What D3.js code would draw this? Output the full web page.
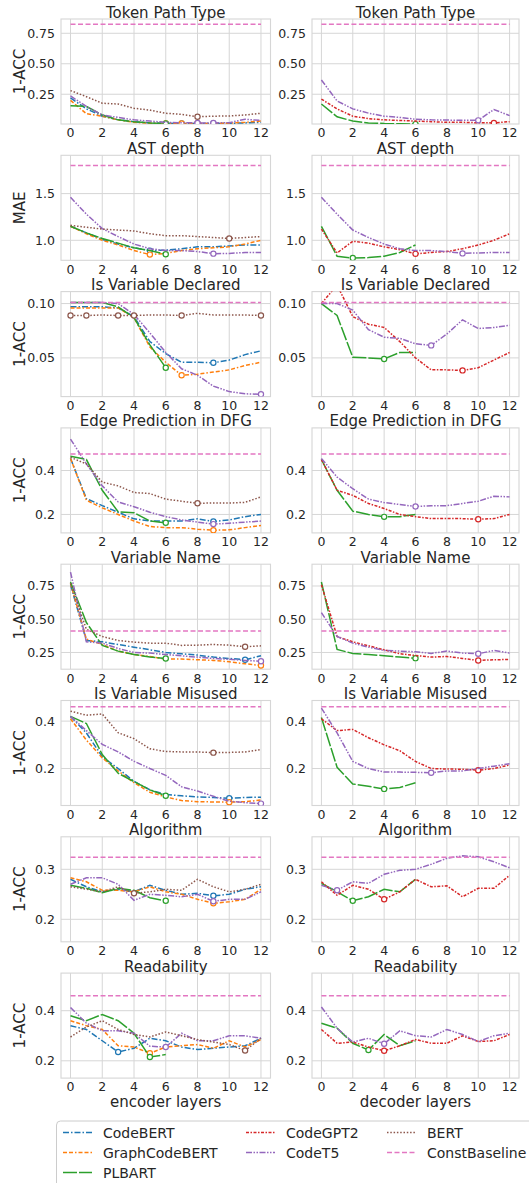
<!DOCTYPE html>
<html><head><meta charset="utf-8">
<script src="https://cdn.jsdelivr.net/npm/d3@7"></script>
<style>
body{margin:0;background:#fff}
svg{display:block;font-family:"DejaVu Sans",sans-serif}
</style>
</head><body>
<svg id="chart" width="529" height="1183"></svg>
<script>
// ---------------- data ----------------
const tasks = ["Token Path Type","AST depth","Is Variable Declared","Edge Prediction in DFG","Variable Name","Is Variable Misused","Algorithm","Readability"];
const yLabels = ["1-ACC","MAE","1-ACC","1-ACC","1-ACC","1-ACC","1-ACC","1-ACC"];
const encoderModels = ["CodeBERT","GraphCodeBERT","PLBART","CodeT5","BERT"];
const decoderModels = ["PLBART","CodeGPT2","CodeT5"];
const baselines = [0.824, 1.80, 0.101, 0.475, 0.411, 0.461, 0.324, 0.46];
const yDomains = [[0.006,0.867],[0.786,1.91],[0.0144,0.111],[0.116,0.594],[0.124,0.914],[0.044,0.487],[0.155,0.365],[0.131,0.55]];
const yTicks = [[0.25,0.5,0.75],[1.0,1.5],[0.05,0.10],[0.2,0.4],[0.25,0.5,0.75],[0.2,0.4],[0.2,0.3],[0.2,0.4]];
const yTickLabels = [["0.25","0.50","0.75"],["1.0","1.5"],["0.05","0.10"],["0.2","0.4"],["0.25","0.50","0.75"],["0.2","0.4"],["0.2","0.3"],["0.2","0.4"]];
const xTicks = [0,2,4,6,8,10,12];
const xLabels = ["encoder layers","decoder layers"];

// encoder panels: [CodeBERT, GraphCodeBERT, PLBART, CodeT5, BERT]
const encTokenPath = [
  [0.22,0.13,0.07,0.04,0.025,0.015,0.012,0.01,0.01,0.01,0.012,0.015,0.02],
  [0.20,0.09,0.07,0.04,0.02,0.012,0.01,0.01,0.01,0.011,0.013,0.02,0.03],
  [0.155,0.15,0.08,0.04,0.025,0.015,0.01],
  [0.236,0.15,0.08,0.06,0.04,0.03,0.02,0.016,0.015,0.015,0.017,0.045,0.035],
  [0.28,0.23,0.176,0.17,0.135,0.12,0.094,0.085,0.066,0.07,0.072,0.08,0.094]
];
const encAstDepth = [
  [1.15,1.08,1.01,0.96,0.92,0.89,0.895,0.91,0.93,0.93,0.94,0.95,0.95],
  [1.15,1.07,1.00,0.95,0.89,0.847,0.86,0.89,0.91,0.92,0.93,0.96,1.00],
  [1.15,1.08,1.02,0.97,0.92,0.89,0.85],
  [1.46,1.28,1.125,1.04,0.96,0.91,0.89,0.89,0.88,0.857,0.86,0.87,0.87],
  [1.16,1.14,1.12,1.11,1.10,1.07,1.05,1.05,1.04,1.03,1.02,1.03,1.04]
];
const encVarDeclared = [
  [0.097,0.097,0.097,0.096,0.088,0.065,0.054,0.046,0.046,0.0455,0.048,0.053,0.0565],
  [0.096,0.096,0.096,0.096,0.087,0.06,0.046,0.034,0.035,0.037,0.039,0.043,0.046],
  [0.101,0.101,0.101,0.097,0.087,0.062,0.041],
  [0.101,0.101,0.101,0.1,0.09,0.073,0.055,0.04,0.034,0.024,0.019,0.017,0.0165],
  [0.089,0.089,0.0895,0.089,0.089,0.0895,0.0895,0.089,0.091,0.0895,0.0895,0.0895,0.089]
];
const encEdgeDFG = [
  [0.455,0.272,0.24,0.21,0.18,0.17,0.17,0.17,0.18,0.168,0.175,0.19,0.2],
  [0.455,0.265,0.23,0.2,0.17,0.145,0.14,0.14,0.133,0.128,0.13,0.14,0.15],
  [0.465,0.45,0.31,0.212,0.208,0.17,0.162],
  [0.543,0.43,0.33,0.257,0.235,0.21,0.19,0.175,0.165,0.156,0.16,0.165,0.17],
  [0.46,0.43,0.347,0.33,0.3,0.295,0.27,0.26,0.251,0.252,0.252,0.255,0.28]
];
const encVarName = [
  [0.76,0.34,0.33,0.31,0.29,0.27,0.25,0.24,0.23,0.215,0.205,0.195,0.225],
  [0.77,0.35,0.31,0.26,0.235,0.22,0.2,0.2,0.195,0.19,0.18,0.165,0.152],
  [0.78,0.475,0.303,0.26,0.235,0.215,0.205],
  [0.854,0.33,0.32,0.28,0.25,0.245,0.235,0.225,0.215,0.205,0.198,0.19,0.184],
  [0.77,0.424,0.37,0.34,0.328,0.32,0.32,0.303,0.305,0.31,0.305,0.293,0.3]
];
const encVarMisused = [
  [0.42,0.35,0.25,0.2,0.146,0.11,0.09,0.085,0.08,0.078,0.075,0.078,0.079],
  [0.41,0.32,0.245,0.19,0.14,0.1,0.08,0.065,0.06,0.059,0.058,0.06,0.067],
  [0.42,0.39,0.259,0.18,0.145,0.11,0.085],
  [0.42,0.36,0.302,0.27,0.231,0.2,0.171,0.123,0.105,0.083,0.062,0.056,0.052],
  [0.442,0.425,0.43,0.351,0.326,0.283,0.272,0.27,0.27,0.267,0.268,0.27,0.28]
];
const encAlgorithm = [
  [0.28,0.265,0.255,0.26,0.255,0.268,0.258,0.25,0.252,0.247,0.25,0.26,0.265],
  [0.283,0.275,0.258,0.258,0.255,0.265,0.255,0.25,0.24,0.232,0.235,0.24,0.26],
  [0.268,0.262,0.253,0.262,0.258,0.243,0.237],
  [0.27,0.283,0.283,0.27,0.238,0.25,0.248,0.245,0.25,0.236,0.24,0.24,0.255],
  [0.265,0.26,0.255,0.265,0.252,0.255,0.26,0.258,0.28,0.265,0.255,0.26,0.27]
];
const encReadability = [
  [0.34,0.325,0.28,0.235,0.25,0.29,0.28,0.255,0.245,0.25,0.255,0.26,0.29],
  [0.36,0.34,0.325,0.26,0.255,0.23,0.255,0.26,0.265,0.25,0.28,0.255,0.285],
  [0.38,0.36,0.385,0.36,0.31,0.215,0.225],
  [0.413,0.35,0.32,0.32,0.31,0.258,0.255,0.31,0.28,0.28,0.3,0.3,0.29],
  [0.295,0.335,0.36,0.325,0.305,0.295,0.315,0.3,0.285,0.275,0.265,0.241,0.29]
];
// decoder panels: [PLBART, CodeGPT2, CodeT5]
const decTokenPath = [
  [0.17,0.065,0.03,0.015,0.01,0.008,0.005],
  [0.21,0.13,0.07,0.05,0.04,0.035,0.03,0.025,0.02,0.02,0.016,0.015,0.025],
  [0.367,0.195,0.13,0.095,0.07,0.06,0.045,0.04,0.038,0.037,0.036,0.125,0.075]
];
const decAstDepth = [
  [1.15,0.83,0.81,0.815,0.83,0.87,0.95],
  [1.12,0.865,0.99,0.97,0.93,0.90,0.855,0.87,0.88,0.91,0.95,1.00,1.07],
  [1.46,1.28,1.11,1.03,0.96,0.91,0.89,0.89,0.88,0.86,0.865,0.87,0.87]
];
const decVarDeclared = [
  [0.1,0.089,0.0505,0.05,0.049,0.055,0.055],
  [0.1,0.117,0.088,0.081,0.078,0.065,0.05,0.039,0.039,0.0385,0.041,0.048,0.055],
  [0.1,0.1,0.094,0.076,0.069,0.068,0.063,0.0615,0.072,0.085,0.077,0.078,0.08]
];
const decEdgeDFG = [
  [0.45,0.31,0.215,0.2,0.189,0.19,0.2],
  [0.45,0.31,0.287,0.25,0.227,0.2,0.19,0.181,0.181,0.181,0.178,0.181,0.2],
  [0.455,0.37,0.317,0.27,0.254,0.245,0.236,0.24,0.24,0.25,0.26,0.283,0.28]
];
const decVarName = [
  [0.78,0.273,0.242,0.235,0.225,0.215,0.207],
  [0.76,0.37,0.33,0.3,0.27,0.24,0.227,0.215,0.22,0.205,0.19,0.195,0.197],
  [0.55,0.37,0.32,0.29,0.265,0.26,0.255,0.243,0.26,0.245,0.24,0.265,0.245]
];
const decVarMisused = [
  [0.415,0.205,0.135,0.125,0.114,0.12,0.14],
  [0.41,0.36,0.365,0.33,0.3,0.275,0.23,0.2,0.198,0.197,0.193,0.2,0.215],
  [0.455,0.35,0.23,0.2,0.185,0.185,0.184,0.182,0.19,0.19,0.2,0.21,0.22]
];
const decAlgorithm = [
  [0.272,0.255,0.237,0.245,0.26,0.255,0.28],
  [0.275,0.248,0.268,0.26,0.24,0.255,0.28,0.265,0.267,0.245,0.262,0.262,0.288],
  [0.268,0.258,0.275,0.272,0.29,0.298,0.3,0.31,0.322,0.327,0.325,0.315,0.303]
];
const decReadability = [
  [0.35,0.33,0.27,0.243,0.305,0.26,0.28],
  [0.325,0.27,0.275,0.255,0.24,0.26,0.285,0.27,0.27,0.3,0.277,0.28,0.305],
  [0.415,0.33,0.275,0.29,0.268,0.32,0.3,0.295,0.325,0.305,0.277,0.3,0.31]
];
const encPanels = [encTokenPath,encAstDepth,encVarDeclared,encEdgeDFG,encVarName,encVarMisused,encAlgorithm,encReadability];
const decPanels = [decTokenPath,decAstDepth,decVarDeclared,decEdgeDFG,decVarName,decVarMisused,decAlgorithm,decReadability];

// ---------------- styles ----------------
const colors = {CodeBERT:"#1f77b4",GraphCodeBERT:"#ff7f0e",PLBART:"#2ca02c",CodeGPT2:"#d62728",CodeT5:"#9467bd",BERT:"#8c564b",ConstBaseline:"#e377c2"};
const dashes = {CodeBERT:"6,2,1.5,2",GraphCodeBERT:"4,2,4,2,1.5,2",PLBART:"14,2",CodeGPT2:"3,1.5,1.5,1.5",CodeT5:"6,1.5,1.5,1.5,1.5,1.5",BERT:"1.5,1.8",ConstBaseline:"5,2.5"};
const legendOrder = [["CodeBERT","GraphCodeBERT","PLBART"],["CodeGPT2","CodeT5"],["BERT","ConstBaseline"]];

const textColor = "#262626";
const gridColor = "#d6d6d6";
const svg = d3.select("#chart");

const rowTop0 = 19, rowPitch = 136.3, panelH = 105;
const colX = [[61,270.5],[312,519]];

tasks.forEach((task, r) => {
  const top = rowTop0 + r*rowPitch, bottom = top + panelH;
  const y = d3.scaleLinear().domain(yDomains[r]).range([bottom, top]);
  [0,1].forEach(c => {
    const [left, right] = colX[c];
    const x = d3.scaleLinear().domain([-0.6,12.6]).range([left,right]);
    const g = svg.append("g");
    const clipId = `clip-${r}-${c}`;
    svg.append("clipPath").attr("id",clipId).append("rect")
      .attr("x",left).attr("y",top).attr("width",right-left).attr("height",panelH);
    // grid
    g.selectAll(".gx").data(xTicks).join("line")
      .attr("x1",d=>x(d)).attr("x2",d=>x(d)).attr("y1",top).attr("y2",bottom)
      .attr("stroke",gridColor).attr("stroke-width",1);
    g.selectAll(".gy").data(yTicks[r]).join("line")
      .attr("class","gy")
      .attr("x1",left).attr("x2",right).attr("y1",d=>y(d)).attr("y2",d=>y(d))
      .attr("stroke",gridColor).attr("stroke-width",1);
    g.append("rect").attr("x",left).attr("y",top).attr("width",right-left).attr("height",panelH)
      .attr("fill","none").attr("stroke",gridColor).attr("stroke-width",1.1);
    // x tick labels
    g.selectAll(".xt").data(xTicks).join("text")
      .attr("x",d=>x(d)).attr("y",bottom+13.3).attr("text-anchor","middle")
      .attr("font-size",12.5).attr("fill",textColor).text(d=>d);
    // y tick labels
    g.selectAll(".yt").data(yTicks[r]).join("text")
      .attr("x",left-6).attr("y",d=>y(d)+4.5).attr("text-anchor","end")
      .attr("font-size",12.5).attr("fill",textColor).text((d,i)=>yTickLabels[r][i]);
    // title
    g.append("text").attr("x",(left+right)/2).attr("y",top-1.5).attr("text-anchor","middle")
      .attr("font-size",15).attr("fill",textColor).text(task);
    // series
    const models = c===0 ? encoderModels : decoderModels;
    const seriesList = c===0 ? encPanels[r] : decPanels[r];
    const plot = g.append("g").attr("clip-path",`url(#${clipId})`);
    const line = d3.line().x((d,i)=>x(i)).y(d=>y(d));
    models.forEach((m, k) => {
      const vals = seriesList[k];
      plot.append("path").attr("d",line(vals)).attr("fill","none")
        .attr("stroke",colors[m]).attr("stroke-width",1.5)
        .attr("stroke-dasharray",dashes[m]);
      const mn = d3.min(vals);
      const idx = vals.map((v,i)=>v===mn?i:-1).filter(i=>i>=0);
      plot.selectAll(null).data(idx).join("circle")
        .attr("cx",i=>x(i)).attr("cy",i=>y(vals[i])).attr("r",2.6)
        .attr("fill","#fff").attr("stroke",colors[m]).attr("stroke-width",1.2);
    });
    // constant baseline
    plot.append("line").attr("x1",x(0)).attr("x2",x(12))
      .attr("y1",y(baselines[r])).attr("y2",y(baselines[r]))
      .attr("stroke",colors.ConstBaseline).attr("stroke-width",1.5)
      .attr("stroke-dasharray",dashes.ConstBaseline);
    // y label
    if (c===0) {
      g.append("text").attr("transform",`translate(24.5,${(top+bottom)/2}) rotate(-90)`)
        .attr("text-anchor","middle").attr("font-size",15).attr("fill",textColor).text(yLabels[r]);
    }
    if (r===tasks.length-1) {
      g.append("text").attr("x",(left+right)/2).attr("y",bottom+29).attr("text-anchor","middle")
        .attr("font-size",15).attr("fill",textColor).text(xLabels[c]);
    }
  });
});

// ---------------- legend ----------------
const lg = svg.append("g");
lg.append("rect").attr("x",56.5).attr("y",1121).attr("width",500).attr("height",80)
  .attr("rx",4).attr("fill","#fff").attr("stroke","#cccccc").attr("stroke-width",1);
const colStart = [63,246,387];
legendOrder.forEach((col, ci) => {
  col.forEach((m, ri) => {
    const cy = 1132.5 + ri*20;
    lg.append("line").attr("x1",colStart[ci]).attr("x2",colStart[ci]+29)
      .attr("y1",cy).attr("y2",cy).attr("stroke",colors[m]).attr("stroke-width",1.5)
      .attr("stroke-dasharray",dashes[m]);
    lg.append("text").attr("x",colStart[ci]+40).attr("y",cy+5)
      .attr("font-size",14).attr("fill",textColor).text(m);
  });
});
</script>
</body></html>
